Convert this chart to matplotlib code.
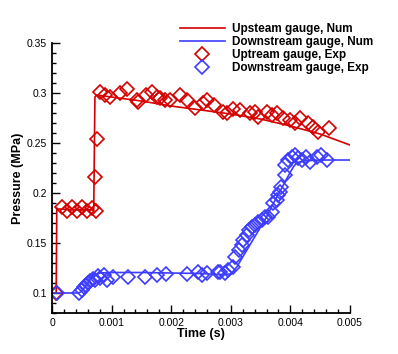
import numpy as np
import matplotlib.pyplot as plt
from matplotlib.ticker import MultipleLocator, FixedLocator, FixedFormatter

plt.rcParams['font.family'] = ['Liberation Sans', 'DejaVu Sans']

# numerical results
t_up_num = [0.0, 0.00007, 0.00008, 0.0001, 0.0007, 0.00071, 0.00072, 0.00075, 0.001, 0.0015,
            0.002, 0.0025, 0.003, 0.0035, 0.004, 0.0045, 0.005]
p_up_num = [0.100, 0.100, 0.185, 0.184, 0.183, 0.240, 0.296, 0.298, 0.296, 0.292,
            0.287, 0.283, 0.279, 0.274, 0.267, 0.259, 0.248]

t_dn_num = [0.0, 0.00045, 0.0005, 0.00055, 0.0006, 0.00065, 0.0007, 0.00075, 0.0008, 0.001,
            0.0015, 0.002, 0.0025, 0.0028, 0.003, 0.0031, 0.0032, 0.0033, 0.0034, 0.0035,
            0.0036, 0.0037, 0.0038, 0.0039, 0.004, 0.00405, 0.0041, 0.0042, 0.0045, 0.005]
p_dn_num = [0.100, 0.100, 0.102, 0.106, 0.110, 0.114, 0.117, 0.119, 0.120, 0.1205,
            0.1205, 0.120, 0.1195, 0.1185, 0.119, 0.126, 0.136, 0.146, 0.156, 0.166,
            0.176, 0.188, 0.199, 0.210, 0.221, 0.226, 0.230, 0.232, 0.233, 0.233]

# experimental data
t_up_exp = [0.00007, 0.00017, 0.00025, 0.00033, 0.00042, 0.00050, 0.00058, 0.00067, 0.00073,
            0.00072, 0.00075, 0.00081, 0.00089, 0.00097, 0.00114, 0.00126, 0.00142, 0.00145,
            0.00158, 0.00168, 0.00176, 0.00182, 0.0019, 0.00198, 0.00215, 0.00226, 0.0024,
            0.00254, 0.0026, 0.00271, 0.00287, 0.00293, 0.00304, 0.00315, 0.00332, 0.00341,
            0.00346, 0.0036, 0.00369, 0.00377, 0.00388, 0.00399, 0.00408, 0.00416, 0.0043,
            0.00438, 0.00447, 0.00464]
p_up_exp = [0.100, 0.186, 0.182, 0.186, 0.182, 0.186, 0.182, 0.185, 0.182,
            0.216, 0.254, 0.301, 0.298, 0.296, 0.300, 0.304, 0.293, 0.291,
            0.298, 0.301, 0.296, 0.295, 0.293, 0.293, 0.298, 0.293, 0.285,
            0.290, 0.293, 0.288, 0.281, 0.280, 0.284, 0.283, 0.280, 0.281,
            0.276, 0.281, 0.278, 0.280, 0.275, 0.273, 0.270, 0.275, 0.270,
            0.266, 0.261, 0.265]

t_dn_exp = [0.00008, 0.00045, 0.0005, 0.00053, 0.00057, 0.0006, 0.00064, 0.00068, 0.00072,
            0.00077, 0.0008, 0.00088, 0.00093, 0.00102, 0.00128, 0.00156, 0.00176, 0.00192,
            0.00226, 0.00245, 0.00251, 0.0026, 0.00279, 0.00282, 0.0029, 0.00296, 0.00304,
            0.00307, 0.00313, 0.00318, 0.00321, 0.00327, 0.0033, 0.00335, 0.00341, 0.00346,
            0.00352, 0.00357, 0.00363, 0.00369, 0.00371, 0.00377, 0.0038, 0.00383, 0.00385,
            0.00391, 0.00391, 0.00396, 0.00402, 0.00408, 0.00413, 0.00419, 0.00427, 0.00433,
            0.00444, 0.00452, 0.00461]
p_dn_exp = [0.100, 0.100, 0.103, 0.106, 0.108, 0.110, 0.112, 0.114, 0.113,
            0.117, 0.115, 0.118, 0.113, 0.116, 0.116, 0.116, 0.118, 0.119,
            0.119, 0.121, 0.118, 0.120, 0.121, 0.121, 0.120, 0.123, 0.126,
            0.136, 0.143, 0.148, 0.153, 0.158, 0.163, 0.166, 0.168, 0.171,
            0.173, 0.176, 0.176, 0.181, 0.190, 0.193, 0.198, 0.201, 0.206,
            0.218, 0.228, 0.233, 0.236, 0.238, 0.235, 0.233, 0.236, 0.231,
            0.236, 0.238, 0.233]

red = '#d40000'
blue = '#3c3cff'

fig = plt.figure(figsize=(3.98, 3.54), dpi=100)
ax = fig.add_axes([0.1307, 0.1158, 0.7487, 0.7627])

ax.plot(t_up_num, p_up_num, color=red, lw=1.2, label='Upsteam gauge, Num')
ax.plot(t_dn_num, p_dn_num, color=blue, lw=1.2, label='Downstream gauge, Num')
ax.plot(t_up_exp, p_up_exp, ls='none', marker='D', ms=7.3, mfc='none', mec=red, mew=1.2,
        label='Uptream gauge, Exp')
ax.plot(t_dn_exp, p_dn_exp, ls='none', marker='D', ms=7.3, mfc='none', mec=blue, mew=1.2,
        label='Downstream gauge, Exp')

ax.set_xlim(0, 0.005)
ax.set_ylim(0.08, 0.35)

xt = [0, 0.001, 0.002, 0.003, 0.004, 0.005]
yt = [0.1, 0.15, 0.2, 0.25, 0.3, 0.35]
ax.xaxis.set_major_locator(FixedLocator(xt))
ax.xaxis.set_major_formatter(FixedFormatter(['0', '0.001', '0.002', '0.003', '0.004', '0.005']))
ax.yaxis.set_major_locator(FixedLocator(yt))
ax.yaxis.set_major_formatter(FixedFormatter(['0.1', '0.15', '0.2', '0.25', '0.3', '0.35']))
ax.xaxis.set_minor_locator(MultipleLocator(0.0002))
ax.yaxis.set_minor_locator(MultipleLocator(0.01))

ax.tick_params(which='both', direction='in', labelsize=7.5, width=1.0, colors='black')
ax.tick_params(which='major', length=6)
ax.tick_params(which='minor', length=3)
ax.spines['top'].set_visible(False)
ax.spines['right'].set_visible(False)
ax.spines['left'].set_linewidth(1.3)
ax.spines['bottom'].set_linewidth(1.3)

ax.set_xlabel('Time (s)', fontsize=9, fontweight='bold', labelpad=0)
ax.set_ylabel('Pressure (MPa)', fontsize=9, fontweight='bold', labelpad=2)

leg = ax.legend(loc='upper left', bbox_to_anchor=(0.413, 1.09), frameon=False,
                prop={'weight': 'bold', 'size': 8.5}, handlelength=3.8,
                labelspacing=0.08, handletextpad=0.6, borderaxespad=0)

fig.savefig('out.png', dpi=100)
